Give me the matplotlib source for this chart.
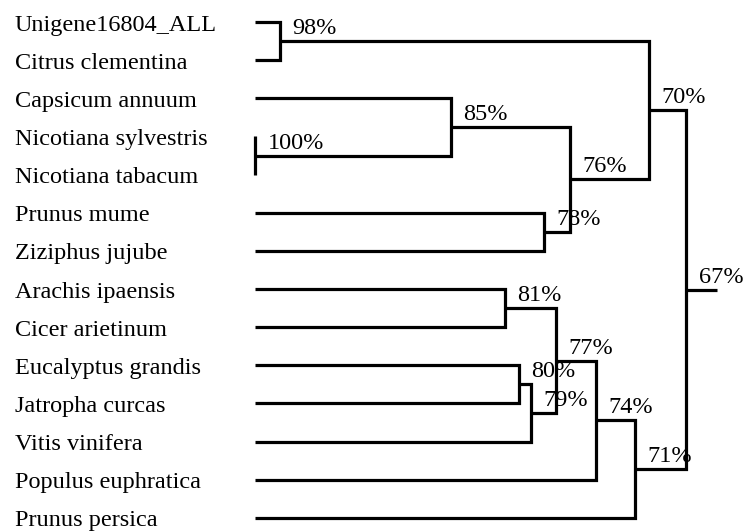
import matplotlib
matplotlib.use("Agg")
import matplotlib.pyplot as plt

# species in top-to-bottom order
leaves = ["Unigene16804_ALL", "Citrus clementina", "Capsicum annuum",
          "Nicotiana sylvestris", "Nicotiana tabacum", "Prunus mume",
          "Ziziphus jujube", "Arachis ipaensis", "Cicer arietinum",
          "Eucalyptus grandis", "Jatropha curcas", "Vitis vinifera",
          "Populus euphratica", "Prunus persica"]
leaf_x = 255

# internal nodes (children listed before parents)
clade_names = ["n98", "n100", "n85", "n78", "n76", "n70",
               "n81", "n80", "n79", "n77", "n74", "n71", "n67"]
clade_children = [
    ["Unigene16804_ALL", "Citrus clementina"],
    ["Nicotiana sylvestris", "Nicotiana tabacum"],
    ["Capsicum annuum", "n100"],
    ["Prunus mume", "Ziziphus jujube"],
    ["n85", "n78"],
    ["n98", "n76"],
    ["Arachis ipaensis", "Cicer arietinum"],
    ["Eucalyptus grandis", "Jatropha curcas"],
    ["n80", "Vitis vinifera"],
    ["n81", "n79"],
    ["n77", "Populus euphratica"],
    ["n74", "Prunus persica"],
    ["n70", "n71"],
]
clade_x = [280, 255, 451, 544, 570, 649, 505, 519, 531, 556, 596, 635, 686]
support = ["98%", "100%", "85%", "78%", "76%", "70%",
           "81%", "80%", "79%", "77%", "74%", "71%", "67%"]
root_end = 717

plt.rcParams["font.family"] = ["Liberation Serif", "DejaVu Serif"]

fig = plt.figure(figsize=(7.44, 5.32), dpi=100)
ax = fig.add_axes([0, 0, 1, 1])
ax.set_xlim(0, 744)
ax.set_ylim(13.37, -0.577)
ax.axis("off")

pos = {}
for i, name in enumerate(leaves):
    pos[name] = (leaf_x, i)
    ax.text(15, i + 0.08, name, fontsize=17.5, va="center", ha="left")

lw = 2.3
for name, kids, x, s in zip(clade_names, clade_children, clade_x, support):
    (x1, y1), (x2, y2) = pos[kids[0]], pos[kids[1]]
    ax.plot([x1, x, x, x2], [y1, y1, y2, y2], color="black", lw=lw,
            solid_joinstyle="miter", solid_capstyle="butt")
    y = (y1 + y2) / 2
    pos[name] = (x, y)
    ax.annotate(s, (x, y), xytext=(9, 9), textcoords="offset points",
                fontsize=17.5, va="center", ha="left")

rx, ry = pos["n67"]
ax.plot([rx, root_end], [ry, ry], color="black", lw=lw, solid_capstyle="butt")

fig.savefig("out.png", dpi=100)
